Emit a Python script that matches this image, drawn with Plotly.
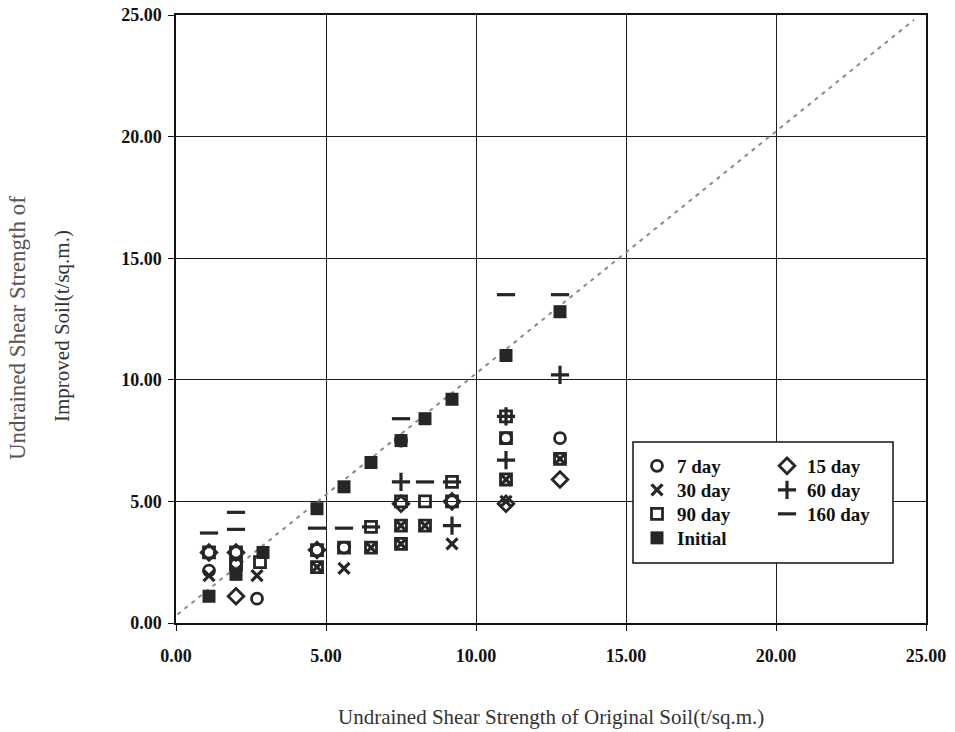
import plotly.graph_objects as go

# ---------------- data (t/sq.m.) ----------------
day7_x = [1.1, 2.7, 2.0, 5.6, 7.5, 11.0, 12.8]
day7_y = [2.15, 1.0, 2.4, 3.1, 7.5, 7.6, 7.6]

day15_x = [2.0, 1.1, 2.0, 4.7, 7.5, 9.2, 11.0, 12.8]
day15_y = [1.1, 2.9, 2.9, 3.0, 4.9, 5.0, 4.9, 5.9]

day30_x = [1.1, 2.7, 2.0, 4.7, 5.6, 6.5, 7.5, 7.5, 8.3, 9.2, 11.0, 11.0, 12.8]
day30_y = [1.95, 1.95, 2.15, 2.3, 2.25, 3.1, 4.0, 3.25, 4.0, 3.25, 5.0, 5.9, 6.75]

day60_x = [7.5, 9.2, 11.0, 11.0, 12.8]
day60_y = [5.8, 4.0, 6.7, 8.5, 10.2]

day90_x = [1.1, 2.0, 2.0, 2.8, 4.7, 4.7, 5.6, 6.5, 6.5, 7.5, 7.5, 7.5, 8.3, 8.3, 9.2, 9.2, 11.0, 11.0, 11.0, 12.8]
day90_y = [2.9, 2.9, 2.4, 2.5, 3.0, 2.3, 3.1, 3.95, 3.1, 5.0, 4.0, 3.25, 5.0, 4.0, 5.8, 5.0, 8.5, 7.6, 5.9, 6.75]

day160_x = [1.1, 2.0, 2.0, 4.7, 5.6, 6.5, 7.5, 8.3, 9.2, 11.0, 12.8]
day160_y = [3.7, 4.55, 3.85, 3.9, 3.9, 3.95, 8.4, 5.8, 5.8, 13.5, 13.5]

init_x = [1.1, 2.0, 2.9, 4.7, 5.6, 6.5, 7.5, 8.3, 9.2, 11.0, 12.8]
init_y = [1.1, 2.0, 2.9, 4.7, 5.6, 6.6, 7.5, 8.4, 9.2, 11.0, 12.8]

line_x = [0.05, 24.6]
line_y = [0.35, 24.8]

tick_vals = [0, 5, 10, 15, 20, 25]
tick_text = ["0.00", "5.00", "10.00", "15.00", "20.00", "25.00"]

# ---------------- styling ----------------
INK = "#262626"
FONT = "Liberation Serif"

W, H = 955, 732
L, R, T, B = 176, 29, 15, 109
pw, ph = W - L - R, H - T - B


def px(xp):
    return (xp - L) / pw


def py(yp):
    return (H - B - yp) / ph


fig = go.Figure()

fig.add_trace(go.Scatter(x=line_x, y=line_y, mode="lines",
                         line=dict(color="#8a8a8a", width=2, dash="4px,5px"),
                         showlegend=False, hoverinfo="skip"))

# legend slots: (column left px, row centre px)
col1, col2 = 637, 767
rows = [466, 490, 514, 538]
series = [
    (day7_x, day7_y, "7 day", "circle-open", 11, 2.8, col1, rows[0]),
    (day30_x, day30_y, "30 day", "x-thin", 11, 3.2, col1, rows[1]),
    (day90_x, day90_y, "90 day", "square-open", 11, 2.8, col1, rows[2]),
    (init_x, init_y, "Initial", "square", 13, 0, col1, rows[3]),
    (day15_x, day15_y, "15 day", "diamond-open", 12, 2.8, col2, rows[0]),
    (day60_x, day60_y, "60 day", "cross-thin", 13, 3.2, col2, rows[1]),
    (day160_x, day160_y, "160 day", "line-ew", 13, 3.2, col2, rows[2]),
]

leg_font = dict(family=FONT, size=19, color="#111", weight="bold")
legends = {}
for i, (xs, ys, name, sym, size, lw, lx, ly) in enumerate(series):
    key = "legend" if i == 0 else f"legend{i + 1}"
    fig.add_trace(go.Scatter(
        x=xs, y=ys, mode="markers", name=name, legend=key,
        marker=dict(symbol=sym, size=size, color=INK,
                    line=dict(width=lw, color=INK))))
    legends[key] = dict(x=px(lx), y=py(ly - 19), xanchor="left", yanchor="top",
                        bgcolor="rgba(0,0,0,0)", borderwidth=0, font=leg_font)

tick_font = dict(family=FONT, size=18, color="#111", weight="bold")
axis_common = dict(
    range=[0, 25], tickvals=tick_vals, ticktext=tick_text,
    showgrid=True, gridcolor="#1e1e1e", gridwidth=1,
    showline=True, linecolor="#111", linewidth=1.5, mirror=True,
    ticks="outside", ticklen=6, tickcolor="#111", tickwidth=1.2,
    zeroline=False, tickfont=tick_font, automargin=False,
)

fig.update_xaxes(**axis_common, ticklabelstandoff=10)
fig.update_yaxes(**axis_common, ticklabelstandoff=3)

fig.update_layout(
    width=W, height=H,
    margin=dict(l=L, r=R, t=T, b=B, autoexpand=False),
    paper_bgcolor="white", plot_bgcolor="white",
    showlegend=True,
    shapes=[dict(type="rect", xref="paper", yref="paper",
                 x0=px(633), x1=px(893), y0=py(563), y1=py(442),
                 fillcolor="white", line=dict(color="#111", width=1.5),
                 layer="above")],
    annotations=[
        dict(text="Undrained Shear Strength of Original Soil(t/sq.m.)",
             xref="paper", yref="paper", x=px(551), y=py(717),
             xanchor="center", yanchor="middle", showarrow=False,
             font=dict(family=FONT, size=21, color="#333")),
        dict(text="Undrained Shear Strength of",
             xref="paper", yref="paper", x=px(17), y=py(328),
             xanchor="center", yanchor="middle", showarrow=False, textangle=-90,
             font=dict(family=FONT, size=23, color="#555")),
        dict(text="Improved Soil(t/sq.m.)",
             xref="paper", yref="paper", x=px(62), y=py(326),
             xanchor="center", yanchor="middle", showarrow=False, textangle=-90,
             font=dict(family=FONT, size=21, color="#333")),
    ],
    **legends,
)

fig.write_html("out.html")
